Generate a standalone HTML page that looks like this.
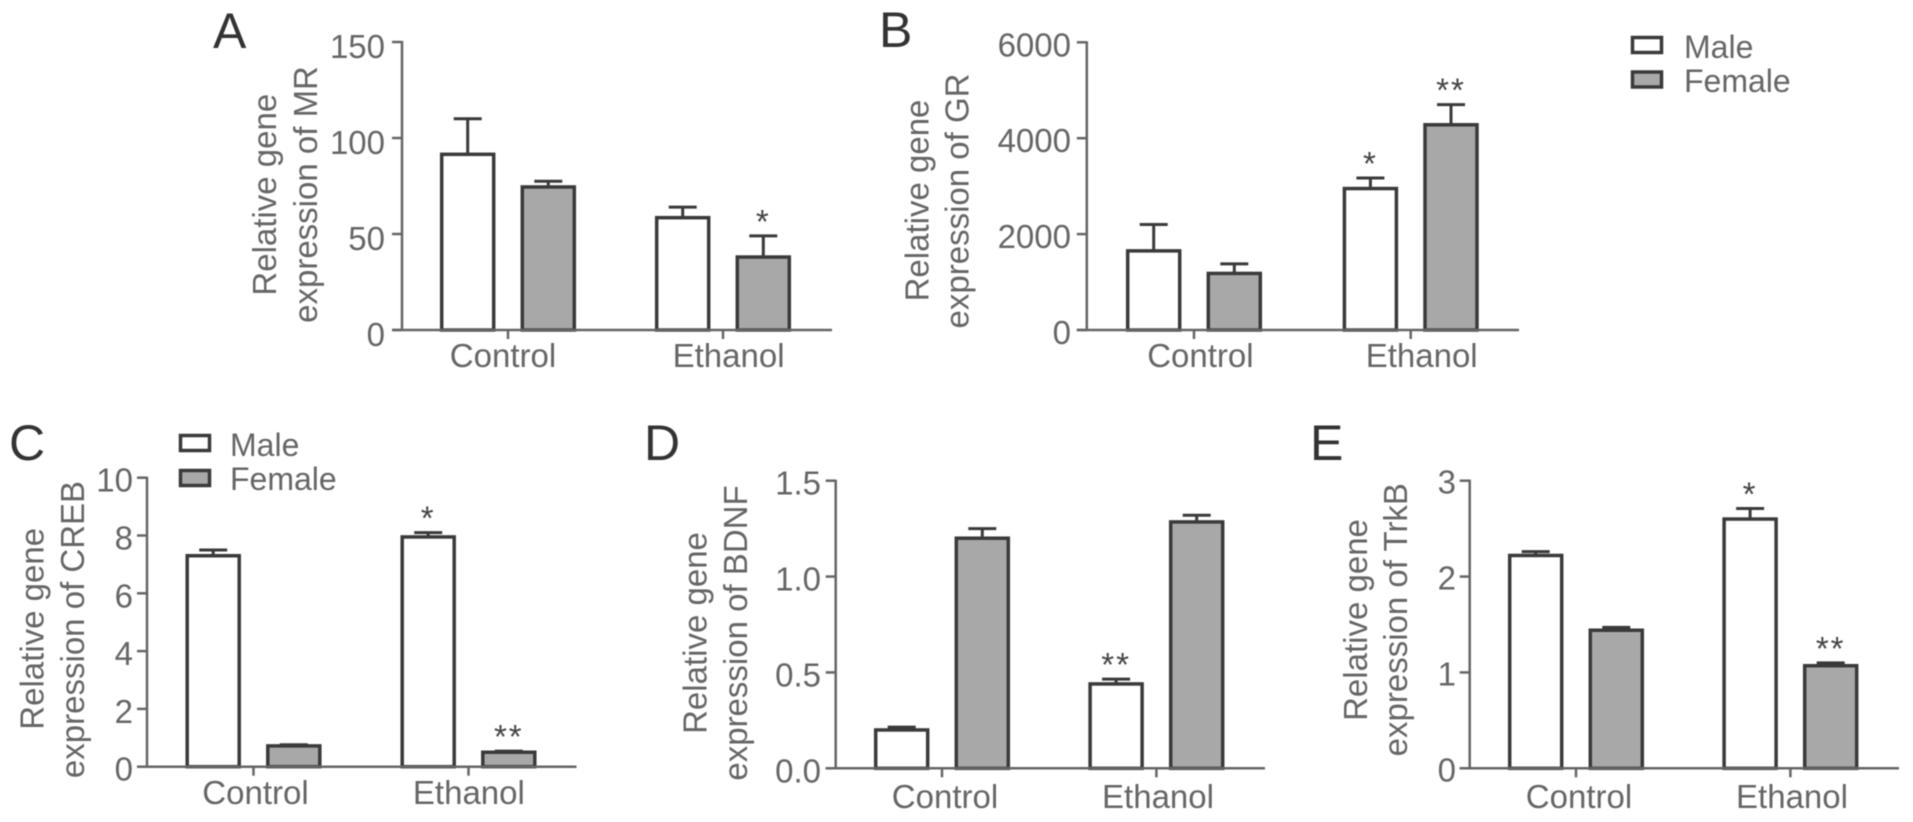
<!DOCTYPE html>
<html lang="en">
<head>
<meta charset="utf-8">
<title>Relative gene expression by sex and treatment</title>
<style>
html,body{margin:0;padding:0;background:#fff;width:1913px;height:822px;overflow:hidden}
svg{display:block;filter:blur(0.5px)}
text{font-family:"Liberation Sans",sans-serif;fill:#666}
.title{font-size:33px;text-anchor:middle}
.tick{font-size:33px;text-anchor:end}
.cat{font-size:33px;text-anchor:middle}
.legend{font-size:32px}
.letter{font-size:50px;fill:#333}
.star{font-size:33px;text-anchor:middle;fill:#444;letter-spacing:2px}
.axis{stroke:#666;stroke-width:2.5;fill:none}
.bar{stroke:#3a3a3a;stroke-width:3.5}
.err{stroke:#3a3a3a;stroke-width:3;fill:none}
.male{fill:#fff}
.female{fill:#a8a8a8}
</style>
</head>
<body>
<svg id="figure" xmlns="http://www.w3.org/2000/svg" width="1913" height="822" viewBox="0 0 1913 822">
  <rect width="1913" height="822" fill="#fff"/>

  <text class="letter" x="213" y="48">A</text>
  <text class="letter" x="879" y="47">B</text>
  <text class="letter" x="9" y="460">C</text>
  <text class="letter" x="644" y="460">D</text>
  <text class="letter" x="1310" y="460">E</text>

  <g>
    <text class="title" transform="translate(276,194.7) rotate(-90)">Relative gene</text>
    <text class="title" transform="translate(317,194.5) rotate(-90)">expression of MR</text>
  </g>
  <g>
    <text class="title" transform="translate(928.5,200.5) rotate(-90)">Relative gene</text>
    <text class="title" transform="translate(968.4,201) rotate(-90)">expression of GR</text>
  </g>
  <g>
    <text class="title" transform="translate(43.5,628.8) rotate(-90)">Relative gene</text>
    <text class="title" transform="translate(84,629.5) rotate(-90)">expression of CREB</text>
  </g>
  <g>
    <text class="title" transform="translate(706.4,633) rotate(-90)">Relative gene</text>
    <text class="title" transform="translate(746.8,633) rotate(-90)">expression of BDNF</text>
  </g>
  <g>
    <text class="title" transform="translate(1367,620) rotate(-90)">Relative gene</text>
    <text class="title" transform="translate(1407,619.7) rotate(-90)">expression of TrkB</text>
  </g>

  <g>
    <g>
      <rect class="bar male" x="1632.5" y="37.5" width="29" height="15"/>
      <text class="legend" x="1684" y="58">Male</text>
    </g>
    <g>
      <rect class="bar female" x="1632.5" y="72" width="29" height="15"/>
      <text class="legend" x="1684" y="92">Female</text>
    </g>
  </g>
  <g>
    <g>
      <rect class="bar male" x="180.5" y="435.5" width="29" height="15"/>
      <text class="legend" x="230" y="456">Male</text>
    </g>
    <g>
      <rect class="bar female" x="180.5" y="470.5" width="29" height="15"/>
      <text class="legend" x="230" y="490">Female</text>
    </g>
  </g>
</svg>

<script>
// Shared categories
const categories = ['Control', 'Ethanol'];

// Panel A: MR
const mrMale = [91.5, 58.5];
const mrFemale = [74.5, 38];
const mrMaleErrTop = [110, 64];
const mrFemaleErrTop = [77.5, 49];
const mrMaleStars = ['', ''];
const mrFemaleStars = ['', '*'];
const mrTicks = [0, 50, 100, 150];
const mrTickLabels = ['0', '50', '100', '150'];

// Panel B: GR
const grMale = [1650, 2950];
const grFemale = [1180, 4280];
const grMaleErrTop = [2200, 3170];
const grFemaleErrTop = [1380, 4700];
const grMaleStars = ['', '*'];
const grFemaleStars = ['', '**'];
const grTicks = [0, 2000, 4000, 6000];
const grTickLabels = ['0', '2000', '4000', '6000'];

// Panel C: CREB
const crebMale = [7.3, 7.95];
const crebFemale = [0.72, 0.5];
const crebMaleErrTop = [7.5, 8.1];
const crebFemaleErrTop = [0.76, 0.54];
const crebMaleStars = ['', '*'];
const crebFemaleStars = ['', '**'];
const crebTicks = [0, 2, 4, 6, 8, 10];
const crebTickLabels = ['0', '2', '4', '6', '8', '10'];

// Panel D: BDNF
const bdnfMale = [0.2, 0.44];
const bdnfFemale = [1.2, 1.285];
const bdnfMaleErrTop = [0.215, 0.465];
const bdnfFemaleErrTop = [1.25, 1.32];
const bdnfMaleStars = ['', '**'];
const bdnfFemaleStars = ['', ''];
const bdnfTicks = [0, 0.5, 1, 1.5];
const bdnfTickLabels = ['0.0', '0.5', '1.0', '1.5'];

// Panel E: TrkB
const trkbMale = [2.22, 2.6];
const trkbFemale = [1.44, 1.07];
const trkbMaleErrTop = [2.26, 2.71];
const trkbFemaleErrTop = [1.47, 1.1];
const trkbMaleStars = ['', '*'];
const trkbFemaleStars = ['', '**'];
const trkbTicks = [0, 1, 2, 3];
const trkbTickLabels = ['0', '1', '2', '3'];

const SVG_NS = 'http://www.w3.org/2000/svg';
const figure = document.getElementById('figure');

function make(parent, tag, attrs, content) {
  const el = document.createElementNS(SVG_NS, tag);
  for (const k in attrs) el.setAttribute(k, attrs[k]);
  if (content !== undefined) el.textContent = content;
  parent.appendChild(el);
  return el;
}

function drawPanel(id, frame, d) {
  const g = make(figure, 'g', {});
  
  

  const yMax = d.ticks[d.ticks.length - 1];
  const yScale = v => frame.base - (v / yMax) * (frame.base - frame.top);
  const catX = i => frame.firstCat + i * frame.catStep;
  const dodge = 40.3;
  const barW = 52;

  // y axis
  const yAxis = make(g, 'line', {class: 'axis', x1: frame.axisX, x2: frame.axisX, y1: yScale(yMax) - 1, y2: frame.base});
  
  

  d.ticks.forEach((t, i) => {
    const tick = make(g, 'line', {class: 'axis', x1: frame.axisX - 10, x2: frame.axisX, y1: yScale(t), y2: yScale(t)});
    
    
    const label = make(g, 'text', {class: 'tick', x: frame.labelX, y: yScale(t) + frame.labelDy}, d.tickLabels[i]);
    
    
  });

  // bars
  function drawSeries(values, errTops, stars, offset, cls) {
    values.forEach((v, i) => {
      const cx = catX(i) + offset;
      const top = yScale(v);
      const errY = yScale(errTops[i]);
      const stem = make(g, 'line', {class: 'err', x1: cx, x2: cx, y1: top, y2: errY});
      
      
      const cap = make(g, 'line', {class: 'err', x1: cx - 14, x2: cx + 14, y1: errY, y2: errY});
      
      
      const bar = make(g, 'rect', {class: 'bar ' + cls, x: cx - barW / 2, y: top, width: barW, height: frame.base - top});
      
      
      if (stars[i]) {
        const star = make(g, 'text', {class: 'star', x: cx, y: errY - 3}, stars[i]);
        
        
      }
    });
  }
  drawSeries(d.male, d.maleErr, d.maleStars, -dodge, 'male');
  drawSeries(d.female, d.femaleErr, d.femaleStars, dodge, 'female');

  // x axis on top of the bar bases
  const xAxis = make(g, 'line', {class: 'axis', x1: frame.axisX - 10, x2: frame.right, y1: frame.base, y2: frame.base});
  
  

  categories.forEach((c, i) => {
    const tick = make(g, 'line', {class: 'axis', x1: catX(i), x2: catX(i), y1: frame.base, y2: frame.base + 9});
    
    
    const label = make(g, 'text', {class: 'cat', x: catX(i) + (i === 0 ? frame.catShiftA : frame.catShiftB), y: frame.catBase}, c);
    
    
  });
}

drawPanel('a',
  {axisX: 402, top: 42, base: 330, right: 832, firstCat: 508, catStep: 215, labelX: 385, labelDy: 16, catBase: 367, catShiftA: -5, catShiftB: 5.6},
  {male: mrMale, female: mrFemale, maleErr: mrMaleErrTop, femaleErr: mrFemaleErrTop, maleStars: mrMaleStars, femaleStars: mrFemaleStars, ticks: mrTicks, tickLabels: mrTickLabels});
drawPanel('b',
  {axisX: 1086.8, top: 42.3, base: 330, right: 1519, firstCat: 1194, catStep: 216.7, labelX: 1071, labelDy: 14, catBase: 367, catShiftA: 6.4, catShiftB: 11},
  {male: grMale, female: grFemale, maleErr: grMaleErrTop, femaleErr: grFemaleErrTop, maleStars: grMaleStars, femaleStars: grFemaleStars, ticks: grTicks, tickLabels: grTickLabels});
drawPanel('c',
  {axisX: 147, top: 477.7, base: 766.7, right: 576.5, firstCat: 253.5, catStep: 215, labelX: 133, labelDy: 14, catBase: 804, catShiftA: 2, catShiftB: 0.4},
  {male: crebMale, female: crebFemale, maleErr: crebMaleErrTop, femaleErr: crebFemaleErrTop, maleStars: crebMaleStars, femaleStars: crebFemaleStars, ticks: crebTicks, tickLabels: crebTickLabels});
drawPanel('d',
  {axisX: 835.7, top: 480.7, base: 768.3, right: 1265, firstCat: 942, catStep: 214.4, labelX: 821, labelDy: 14, catBase: 808, catShiftA: 3, catShiftB: 1.6},
  {male: bdnfMale, female: bdnfFemale, maleErr: bdnfMaleErrTop, femaleErr: bdnfFemaleErrTop, maleStars: bdnfMaleStars, femaleStars: bdnfFemaleStars, ticks: bdnfTicks, tickLabels: bdnfTickLabels});
drawPanel('e',
  {axisX: 1469.7, top: 480.7, base: 768.3, right: 1899, firstCat: 1576, catStep: 214.4, labelX: 1456, labelDy: 13, catBase: 808, catShiftA: 3, catShiftB: 1.6},
  {male: trkbMale, female: trkbFemale, maleErr: trkbMaleErrTop, femaleErr: trkbFemaleErrTop, maleStars: trkbMaleStars, femaleStars: trkbFemaleStars, ticks: trkbTicks, tickLabels: trkbTickLabels});
</script>
</body>
</html>
